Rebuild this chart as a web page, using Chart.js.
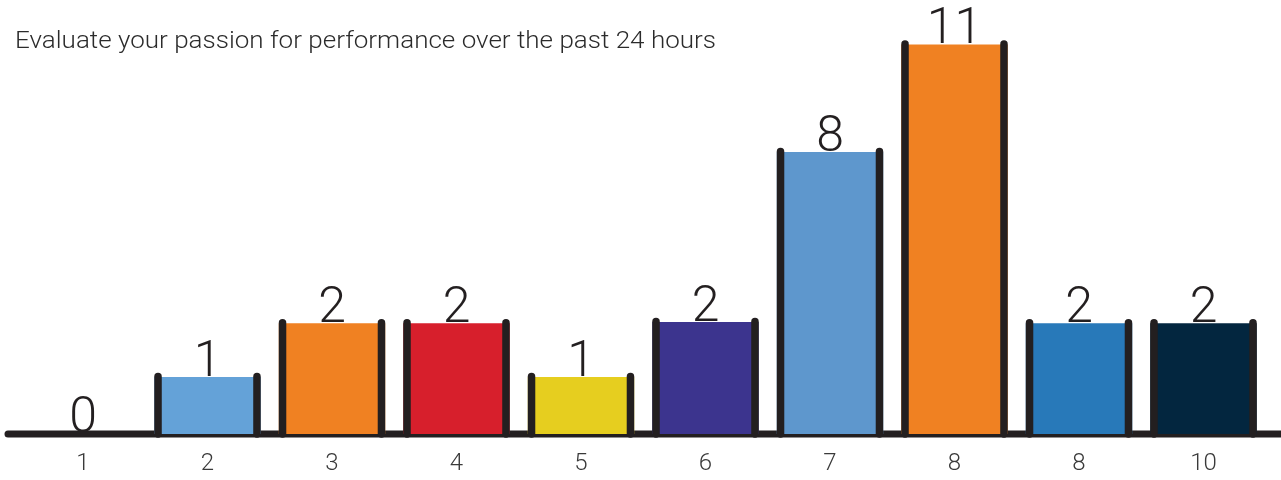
<!DOCTYPE html>
<html>
<head>
<meta charset="utf-8">
<script src="https://cdn.jsdelivr.net/npm/chart.js@4"></script>
<style>
  html, body { margin: 0; padding: 0; background: #ffffff; }
  #wrap { width: 1281px; height: 480px; position: relative; }
</style>
</head>
<body>
<div id="wrap"><canvas id="c" width="1281" height="480"></canvas></div>
<script>
// ---- data ----
const titleText = "Evaluate your passion for performance over the past 24 hours";
const categories = ["1", "2", "3", "4", "5", "6", "7", "8", "8", "10"];
// values printed above the bars
const valueLabels = [0, 1, 2, 2, 1, 2, 8, 11, 2, 2];
// bar heights as drawn in the picture (the infographic is not to scale for small values)
const drawnHeights = [0, 1.61, 3.13, 3.13, 1.61, 3.16, 7.96, 11.0, 3.13, 3.13];
const barColors = ["#64a2d8", "#64a2d8", "#f08122", "#d71f2c", "#e6ce1f", "#3c348e", "#5e97cd", "#f08122", "#2879b9", "#03263f"];

const ink = "#231f20";

const decor = {
  id: "decor",
  beforeDatasetsDraw(chart) {
    const ctx = chart.ctx;
    const y0 = chart.scales.y.getPixelForValue(0);
    ctx.save();
    ctx.strokeStyle = ink;
    ctx.lineWidth = 7;
    ctx.lineCap = "round";
    ctx.beginPath();
    ctx.moveTo(8, y0);
    ctx.lineTo(1290, y0);
    ctx.stroke();
    ctx.restore();
  },
  afterDatasetsDraw(chart) {
    const ctx = chart.ctx;
    const meta = chart.getDatasetMeta(0);
    const y0 = chart.scales.y.getPixelForValue(0);
    ctx.save();
    // side posts
    ctx.strokeStyle = ink;
    ctx.lineWidth = 7.5;
    ctx.lineCap = "round";
    meta.data.forEach((bar, i) => {
      if (drawnHeights[i] <= 0) return;
      const half = bar.width / 2;
      const top = bar.y - 0.5;
      [bar.x - half + 3.75, bar.x + half - 3.75].forEach(x => {
        ctx.beginPath();
        ctx.moveTo(x, top);
        ctx.lineTo(x, y0);
        ctx.stroke();
      });
    });
    // value labels
    ctx.fillStyle = ink;
    ctx.font = "300 50px Roboto, 'Liberation Sans', sans-serif";
    ctx.textAlign = "center";
    ctx.textBaseline = "alphabetic";
    meta.data.forEach((bar, i) => {
      const y = drawnHeights[i] > 0 ? bar.y - 1 : y0 - 2;
      ctx.fillText(String(valueLabels[i]), bar.x, y);
    });
    // title
    ctx.fillStyle = "#2b2b2b";
    ctx.font = "300 23px Roboto, 'Liberation Sans', sans-serif";
    ctx.textAlign = "left";
    const w = ctx.measureText(titleText).width;
    const sx = 701 / w;
    ctx.translate(15, 47.5);
    ctx.scale(sx, 1);
    ctx.fillText(titleText, 0, 0);
    ctx.restore();
  }
};

new Chart(document.getElementById("c"), {
  type: "bar",
  data: {
    labels: categories,
    datasets: [{
      data: drawnHeights,
      backgroundColor: barColors,
      borderWidth: 0,
      barPercentage: 0.855,
      categoryPercentage: 1.0
    }]
  },
  options: {
    responsive: false,
    animation: false,
    devicePixelRatio: 1,
    layout: { padding: { left: 20.75, right: 15.25, top: 9, bottom: 0 } },
    plugins: { legend: { display: false }, tooltip: { enabled: false }, title: { display: false } },
    scales: {
      x: {
        grid: { display: false, drawTicks: false },
        border: { display: false },
        afterFit(scale) { scale.height = 46; },
        ticks: { color: "#3a3a3a", padding: 16, font: { family: "Roboto, 'Liberation Sans', sans-serif", size: 24, weight: 300 } }
      },
      y: {
        display: false,
        min: 0,
        max: 12
      }
    }
  },
  plugins: [decor]
});
</script>
</body>
</html>
